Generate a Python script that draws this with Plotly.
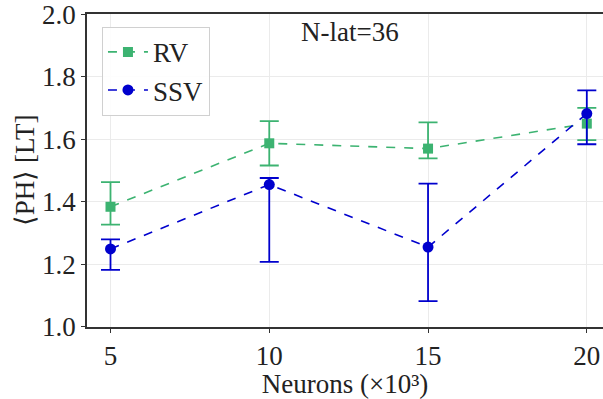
import plotly.graph_objects as go

neurons = [5, 10, 15, 20]

rv_mean = [1.384, 1.587, 1.570, 1.650]
rv_upper = [1.463, 1.658, 1.654, 1.700]
rv_lower = [1.327, 1.516, 1.539, 1.597]

ssv_mean = [1.249, 1.455, 1.255, 1.682]
ssv_upper = [1.280, 1.476, 1.458, 1.756]
ssv_lower = [1.182, 1.208, 1.082, 1.584]

x_ticks = [5, 10, 15, 20]
y_ticks = [1.0, 1.2, 1.4, 1.6, 1.8, 2.0]

GREEN = "#3cb371"
BLUE = "#0000cd"
FONT = "Liberation Serif"
TXT = "#222222"

def err(mean, up, lo):
    return ([u - m for u, m in zip(up, mean)], [m - l for m, l in zip(mean, lo)])

rv_p, rv_m = err(rv_mean, rv_upper, rv_lower)
ssv_p, ssv_m = err(ssv_mean, ssv_upper, ssv_lower)

fig = go.Figure()
fig.add_trace(go.Scatter(
    x=neurons, y=rv_mean, name="RV", mode="lines+markers",
    line=dict(color=GREEN, width=1.6, dash="dash"),
    marker=dict(symbol="square", size=10, color=GREEN),
    error_y=dict(type="data", symmetric=False, array=rv_p, arrayminus=rv_m,
                 color=GREEN, thickness=1.8, width=9.5),
))
fig.add_trace(go.Scatter(
    x=neurons, y=ssv_mean, name="SSV", mode="lines+markers",
    line=dict(color=BLUE, width=1.6, dash="dash"),
    marker=dict(symbol="circle", size=11, color=BLUE),
    error_y=dict(type="data", symmetric=False, array=ssv_p, arrayminus=ssv_m,
                 color=BLUE, thickness=1.8, width=9.5),
))

fig.update_layout(
    width=603, height=399,
    margin=dict(l=87, r=0, t=10, b=72),
    paper_bgcolor="white", plot_bgcolor="white",
    font=dict(family=FONT, size=27, color=TXT),
    showlegend=True,
    legend=dict(x=0.029, y=0.959, xanchor="left", yanchor="top",
                bgcolor="rgba(255,255,255,0.9)", bordercolor="#d0d0d0", borderwidth=1,
                font=dict(family=FONT, size=27, color=TXT),
                itemwidth=40, tracegroupgap=4),
    annotations=[dict(text="N-lat=36", x=0.51, y=0.943, xref="paper", yref="paper",
                      xanchor="center", yanchor="middle", showarrow=False,
                      font=dict(family=FONT, size=27, color=TXT))],
)
fig.update_xaxes(
    range=[4.26, 20.51], tickvals=x_ticks, ticktext=[str(v) for v in x_ticks],
    showgrid=True, gridcolor="#ebebeb", gridwidth=1,
    showline=True, linecolor="#333333", linewidth=1.5, mirror=True,
    ticks="outside", ticklen=4, tickcolor="#333333", zeroline=False,
    ticklabeloverflow="allow",
    title=dict(text="Neurons (×10³)", standoff=6,
               font=dict(family=FONT, size=27, color=TXT)),
)
fig.update_yaxes(
    range=[0.9995, 2.0005], tickvals=y_ticks, ticktext=[f"{v:.1f}" for v in y_ticks],
    showgrid=True, gridcolor="#ebebeb", gridwidth=1,
    showline=True, linecolor="#333333", linewidth=1.5, mirror=False,
    ticks="outside", ticklen=4, tickcolor="#333333", zeroline=False,
    ticklabeloverflow="allow",
    title=dict(text="⟨PH⟩ [LT]", standoff=0,
               font=dict(family=FONT, size=27, color=TXT)),
)

fig.write_html("out.html")
